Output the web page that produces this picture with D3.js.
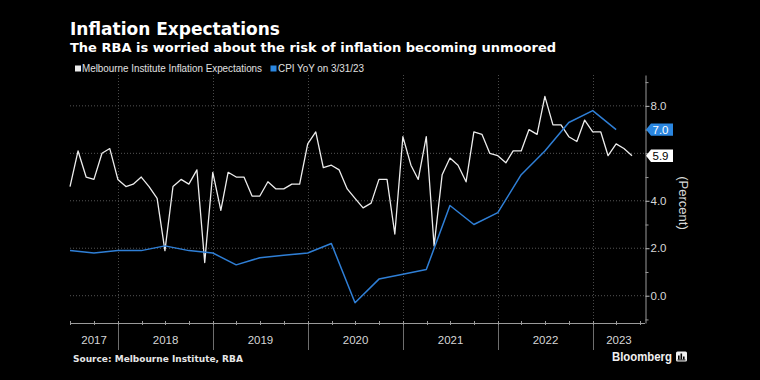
<!DOCTYPE html>
<html>
<head>
<meta charset="utf-8">
<script src="https://cdn.jsdelivr.net/npm/d3@7"></script>
<style>
  html, body { margin: 0; padding: 0; background: #000; }
  svg { display: block; }
</style>
</head>
<body>
<svg id="chart" width="760" height="380"></svg>
<script>
// ---------------- DATA ----------------
const titleText = "Inflation Expectations";
const subtitleText = "The RBA is worried about the risk of inflation becoming unmoored";
const sourceText = "Source: Melbourne Institute, RBA";
const seriesNames = ["Melbourne Institute Inflation Expectations", "CPI YoY on 3/31/23"];
const yAxisLabel = "(Percent)";
const yearLabels = ["2017", "2018", "2019", "2020", "2021", "2022", "2023"];
const yMajorTicks = [0, 2, 4, 6, 8];
const yMinorTicks = [-1, 1, 3, 5, 7, 9];

// Monthly (month-end) Melbourne Institute inflation expectations, Jun 2017 - May 2023
const expStart = [2017, 6];   // June 2017
const expValues = [
  4.6, 6.1, 5.0, 4.9, 6.0, 6.2, 4.9,
  4.6, 4.7, 5.0, 4.6, 4.1, 1.9, 4.6, 4.9, 4.7, 5.3, 1.4, 5.2,
  3.6, 5.2, 5.0, 5.0, 4.2, 4.2, 4.8, 4.5, 4.5, 4.7, 4.7, 6.4,
  6.9, 5.4, 5.5, 5.3, 4.5, 4.1, 3.7, 3.9, 4.9, 4.9, 2.6, 6.7,
  5.5, 4.9, 6.7, 2.1, 5.1, 5.8, 5.5, 4.8, 6.9, 6.8, 6.0, 5.9,
  5.6, 6.1, 6.1, 7.0, 6.8, 8.4, 7.2, 7.2, 6.7, 6.5, 7.4, 6.9,
  6.9, 5.9, 6.4, 6.2, 5.9
];

// Quarterly (quarter-end) CPI YoY, Q2 2017 - Q1 2023
const cpiQuarters = [
  "2017-06-30", "2017-09-30", "2017-12-31",
  "2018-03-31", "2018-06-30", "2018-09-30", "2018-12-31",
  "2019-03-31", "2019-06-30", "2019-09-30", "2019-12-31",
  "2020-03-31", "2020-06-30", "2020-09-30", "2020-12-31",
  "2021-03-31", "2021-06-30", "2021-09-30", "2021-12-31",
  "2022-03-31", "2022-06-30", "2022-09-30", "2022-12-31",
  "2023-03-31"
];
const cpiValues = [
  1.9, 1.8, 1.9,
  1.9, 2.1, 1.9, 1.8,
  1.3, 1.6, 1.7, 1.8,
  2.2, -0.3, 0.7, 0.9,
  1.1, 3.8, 3.0, 3.5,
  5.1, 6.1, 7.3, 7.8,
  7.0
];

// ---------------- BUILD ----------------
const parse = d3.timeParse("%Y-%m-%d");
const expData = expValues.map((v, i) => ({ date: new Date(expStart[0], expStart[1] + i, 0), value: v }));
const cpiData = cpiQuarters.map((d, i) => ({ date: parse(d), value: cpiValues[i] }));

const WHITE = "#ececec";
const BLUE = "#2f7fd6";
const BLUE_TAG = "#2a86e0";

const svg = d3.select("#chart");
svg.append("rect").attr("width", 760).attr("height", 380).attr("fill", "#000");

const pLeft = 70, pRight = 645, pTop = 75, pBottom = 323;
const x = d3.scaleTime()
  .domain([new Date(2017, 5, 30), new Date(2023, 6, 20)])
  .range([pLeft, pRight]);
const y = d3.scaleLinear().domain([-1.15, 9.3]).range([pBottom, pTop]);

const lastExp = expValues[expValues.length - 1];
const lastCpi = cpiValues[cpiValues.length - 1];

// Titles
svg.append("text").attr("x", 70).attr("y", 35)
  .attr("font-family", "DejaVu Sans").attr("font-weight", "bold").attr("font-size", 17)
  .attr("fill", "#fff").text(titleText);
svg.append("text").attr("x", 70).attr("y", 51.5)
  .attr("font-family", "DejaVu Sans").attr("font-weight", "bold").attr("font-size", 13)
  .attr("fill", "#fff").text(subtitleText);

// Legend
const legendItems = [
  { name: seriesNames[0], color: WHITE, sx: 75, tx: 82, len: 180 },
  { name: seriesNames[1], color: BLUE_TAG, sx: 270.5, tx: 278, len: 86 }
];
legendItems.forEach(it => {
  svg.append("rect").attr("x", it.sx).attr("y", 65.5).attr("width", 6).attr("height", 6).attr("fill", it.color);
  svg.append("text").attr("x", it.tx).attr("y", 72)
    .attr("font-family", "Liberation Sans, Arial, sans-serif").attr("font-size", 10)
    .attr("fill", "#e0e0e0")
    .attr("textLength", it.len).attr("lengthAdjust", "spacingAndGlyphs")
    .text(it.name);
});

// Grid lines (horizontal)
svg.append("g").selectAll("line").data(yMajorTicks).join("line")
  .attr("x1", pLeft).attr("x2", pRight)
  .attr("y1", d => y(d)).attr("y2", d => y(d))
  .attr("stroke", "#555").attr("stroke-width", 1).attr("stroke-dasharray", "1,2");

// Year boundaries
const yearStarts = yearLabels.slice(1).map(yy => new Date(+yy, 0, 1));
svg.append("g").selectAll("line").data(yearStarts).join("line")
  .attr("x1", d => Math.round(x(d)) + 0.5).attr("x2", d => Math.round(x(d)) + 0.5)
  .attr("y1", pTop).attr("y2", pBottom)
  .attr("stroke", "#4a4a4a").attr("stroke-width", 1).attr("stroke-dasharray", "1,2");
svg.append("g").selectAll("line").data(yearStarts).join("line")
  .attr("x1", d => Math.round(x(d)) + 0.5).attr("x2", d => Math.round(x(d)) + 0.5)
  .attr("y1", pBottom).attr("y2", 350)
  .attr("stroke", "#6e6e6e").attr("stroke-width", 1);

// Bottom axis line + quarterly ticks
svg.append("line").attr("x1", pLeft).attr("x2", pRight).attr("y1", pBottom + 0.5).attr("y2", pBottom + 0.5)
  .attr("stroke", "#9a9a9a").attr("stroke-width", 1);
const qTicks = d3.timeMonth.every(3).range(x.domain()[0], x.domain()[1]);
svg.append("g").selectAll("line").data(qTicks).join("line")
  .attr("x1", d => Math.round(x(d)) + 0.5).attr("x2", d => Math.round(x(d)) + 0.5)
  .attr("y1", pBottom - 2).attr("y2", pBottom + 2)
  .attr("stroke", "#9a9a9a").attr("stroke-width", 1);

// Year labels
const d0 = x.domain()[0], d1 = x.domain()[1];
svg.append("g").selectAll("text").data(yearLabels).join("text")
  .attr("x", yy => {
    const s = Math.max(+d0, +new Date(+yy, 0, 1));
    const e = Math.min(+d1, +new Date(+yy + 1, 0, 1));
    return (x(new Date(s)) + x(new Date(e))) / 2;
  })
  .attr("y", 344)
  .attr("text-anchor", "middle")
  .attr("font-family", "Liberation Sans, Arial, sans-serif").attr("font-size", 11.5)
  .attr("fill", "#d6d6d6")
  .text(d => d);

// Right axis (labels hidden where a last-value tag sits on top, as in the reference)
const tagYs = [y(lastExp), y(lastCpi)];
const axisMajor = d3.axisRight(y).tickValues(yMajorTicks).tickSize(4).tickSizeOuter(0).tickPadding(1)
  .tickFormat(d => tagYs.some(t => Math.abs(t - y(d)) < 12) ? "" : d3.format(".1f")(d));
const gAx = svg.append("g").attr("transform", `translate(${pRight + 0.5},0)`).call(axisMajor);
gAx.select(".domain").attr("stroke", "#9a9a9a");
gAx.selectAll(".tick line").attr("stroke", "#bdbdbd");
gAx.selectAll(".tick text").attr("fill", "#d9d9d9")
  .attr("font-family", "Liberation Sans, Arial, sans-serif").attr("font-size", 11.5);
const axisMinor = d3.axisRight(y).tickValues(yMinorTicks).tickSize(3).tickSizeOuter(0).tickFormat("");
const gAx2 = svg.append("g").attr("transform", `translate(${pRight + 0.5},0)`).call(axisMinor);
gAx2.select(".domain").remove();
gAx2.selectAll(".tick line").attr("stroke", "#9a9a9a");

// Y axis title
svg.append("text")
  .attr("transform", `translate(679,203) rotate(90)`)
  .attr("text-anchor", "middle")
  .attr("font-family", "Liberation Sans, Arial, sans-serif").attr("font-size", 13)
  .attr("fill", "#d9d9d9").text(yAxisLabel);

// Lines
const line = d3.line().x(d => x(d.date)).y(d => y(d.value));
svg.append("path").datum(expData).attr("d", line)
  .attr("fill", "none").attr("stroke", WHITE).attr("stroke-width", 1.3).attr("stroke-linejoin", "round");
svg.append("path").datum(cpiData).attr("d", line)
  .attr("fill", "none").attr("stroke", BLUE).attr("stroke-width", 1.5).attr("stroke-linejoin", "round");

// Last-value tags
function tag(value, fill, textColor) {
  const yc = y(value);
  const h = 6.2;
  const g = svg.append("g");
  g.append("path")
    .attr("d", `M${pRight + 1},${yc} L${pRight + 6},${yc - h} L673,${yc - h} L673,${yc + h} L${pRight + 6},${yc + h} Z`)
    .attr("fill", fill);
  g.append("text").attr("x", pRight + 7.5).attr("y", yc + 4.2)
    .attr("font-family", "Liberation Sans, Arial, sans-serif").attr("font-size", 11.5)
    .attr("fill", textColor).text(d3.format(".1f")(value));
}
tag(lastCpi, BLUE_TAG, "#fff");
tag(lastExp, "#fff", "#000");

// Source
svg.append("text").attr("x", 73).attr("y", 361.5)
  .attr("font-family", "DejaVu Sans").attr("font-weight", "bold").attr("font-size", 9)
  .attr("fill", "#e6e6e6").text(sourceText);

// Bloomberg logo
svg.append("text").attr("x", 612).attr("y", 360.5)
  .attr("font-family", "Liberation Sans, Arial, sans-serif").attr("font-weight", "bold").attr("font-size", 12)
  .attr("fill", "#f0f0f0")
  .attr("textLength", 60).attr("lengthAdjust", "spacingAndGlyphs")
  .text("Bloomberg");
const lg = svg.append("g").attr("transform", "translate(676,351.5)");
lg.append("rect").attr("width", 11).attr("height", 10).attr("rx", 1.5).attr("fill", "#f0f0f0");
[[2, 4, 4], [4.5, 2, 6], [7, 5, 3]].forEach(([bx, by, bh]) => {
  lg.append("rect").attr("x", bx).attr("y", by).attr("width", 1.6).attr("height", bh).attr("fill", "#000");
});
lg.append("rect").attr("x", 1.5).attr("y", 8).attr("width", 8).attr("height", 0.9).attr("fill", "#000");
</script>
</body>
</html>
